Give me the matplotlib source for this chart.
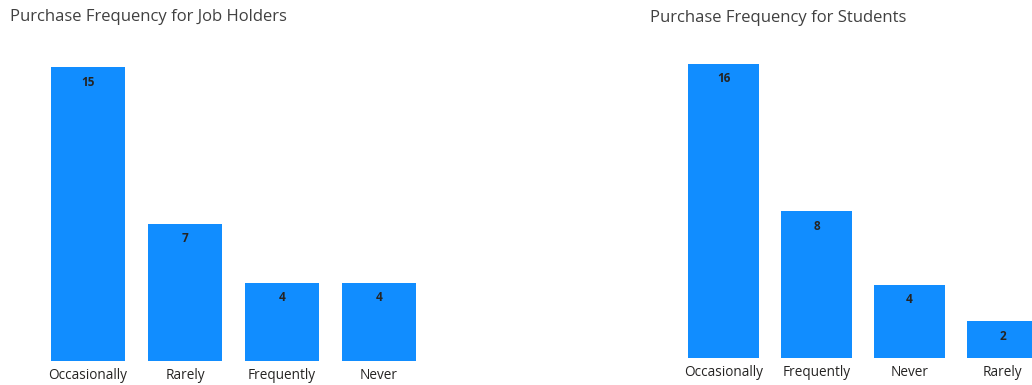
import matplotlib.pyplot as plt

job_cats = ['Occasionally', 'Rarely', 'Frequently', 'Never']
job_vals = [15, 7, 4, 4]
stu_cats = ['Occasionally', 'Frequently', 'Never', 'Rarely']
stu_vals = [16, 8, 4, 2]

BAR = '#118DFF'
W, H = 1032, 385

plt.rcParams['font.family'] = ['Open Sans', 'DejaVu Sans']


def draw_bars(ax, cats, vals, width):
	xs = range(len(cats))
	bars = ax.bar(xs, vals, width=width, color=BAR)
	for b, v in zip(bars, vals):
		ax.annotate(str(v), (b.get_x() + b.get_width() / 2, v), xytext=(0, -15),
			textcoords='offset pixels', ha='center', va='center',
			fontsize=8.5, color='#252423', fontweight='bold')
	ax.set_xlim(-0.5, len(cats) - 0.5)
	ax.set_ylim(0, max(vals))
	ax.set_xticks(list(xs))
	ax.set_xticklabels(cats, fontsize=9.8, color='#252423')
	ax.tick_params(axis='x', length=0, pad=5)
	ax.set_yticks([])
	for s in ax.spines.values():
		s.set_visible(False)


fig = plt.figure(figsize=(W / 100, H / 100), dpi=100)

ax1 = fig.add_axes([39.5 / W, 24 / H, 388 / W, 294 / H])
draw_bars(ax1, job_cats, job_vals, 74 / 97)

ax2 = fig.add_axes([677 / W, 27 / H, 372 / W, 294 / H])
draw_bars(ax2, stu_cats, stu_vals, 71 / 93)

fig.text(10 / W, 1 - 17 / H, 'Purchase Frequency for Job Holders', fontsize=12,
	color='#404040', va='center', ha='left')
fig.text(650 / W, 1 - 18 / H, 'Purchase Frequency for Students', fontsize=12,
	color='#404040', va='center', ha='left')

fig.savefig('out.png', dpi=100)
